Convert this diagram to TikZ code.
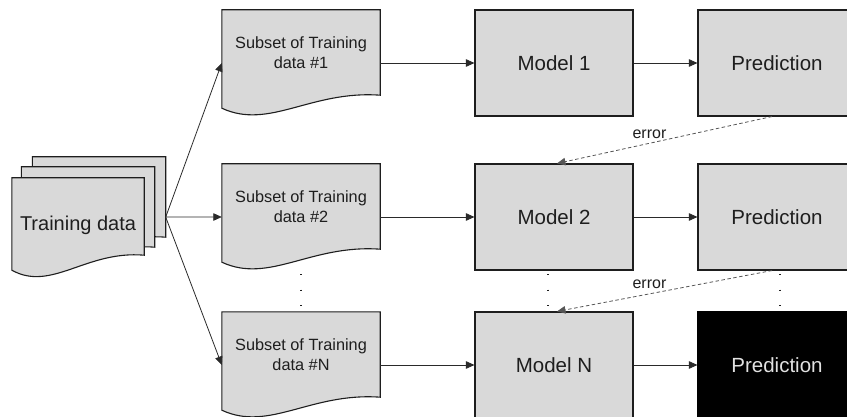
\documentclass[tikz,border=0pt]{standalone}
\usepackage{fontspec}
\setmainfont{Liberation Sans}
\usetikzlibrary{arrows.meta,calc,backgrounds}
\definecolor{boxfill}{HTML}{D9D9D9}
\definecolor{ink}{HTML}{1E1E1E}
\definecolor{wire}{HTML}{2A2A2A}
\tikzset{
  boxline/.style={draw=ink, line width=1.1pt, fill=boxfill},
  docnode/.style={draw=none, minimum width=158pt, minimum height=85pt, inner sep=0pt,
    align=center, text=ink, font=\fontsize{16.3}{19.5}\selectfont},
  stacknode/.style={draw=none, minimum width=133pt, minimum height=80pt, inner sep=0pt,
    text=ink, font=\fontsize{20}{24}\selectfont},
  procbox/.style={boxline, minimum width=158pt, minimum height=106pt, inner sep=0pt,
    text=ink, font=\fontsize{20.5}{24}\selectfont},
  finalbox/.style={procbox, fill=black, draw=black, text=boxfill!80!white},
  flow/.style={draw=wire, line width=0.8pt, -{Triangle[length=8.5pt,width=7.5pt]}},
  errflow/.style={draw=wire!80!white, line width=0.8pt, dash pattern=on 3.5pt off 2.5pt,
    -{Triangle[length=8.5pt,width=7.5pt]}},
  errlabel/.style={font=\fontsize{16}{19}\selectfont, text=ink, inner sep=1.5pt},
  dotcol/.style={draw=ink, line width=1.2pt, dash pattern=on 1.2pt off 14.3pt}
}
\newcommand\docbody[2]{%
  \path[boxline] (#1.north west) -- (#1.north east) -- (#1.south east)
    .. controls ($(#1.south east)!0.44!(#1.south west)+(0,-5)$)
    and ($(#1.south west)!0.30!(#1.south east)+(0,#2+22)$)
    .. ($(#1.south west)+(0,#2)$) -- cycle;}
\begin{document}
\begin{tikzpicture}[x=1pt, y=-1pt]
  \useasboundingbox (0,0) rectangle (847,417);
  \clip (0,0) rectangle (847,417);

  % training data stack
  \node[stacknode] (t3) at (99,197) {};
  \node[stacknode] (t2) at (88,207) {};
  \node[stacknode, minimum width=132pt, minimum height=77pt,
        text height=29pt, text depth=0pt] (t1) at (78,216.5) {Training data};

  % subsets
  \node[docnode] (s1) at (301,52.5) {Subset of Training\\data \#1};
  \node[docnode] (s2) at (301,206.5) {Subset of Training\\data \#2};
  \node[docnode] (sN) at (301,354.5) {Subset of Training\\data \#N};

  \begin{scope}[on background layer]
    \docbody{t3}{15}
    \docbody{t2}{15}
    \docbody{t1}{15}
    \docbody{s1}{13}
    \docbody{s2}{13}
    \docbody{sN}{13}
  \end{scope}

  % models and predictions
  \node[procbox] (m1) at (554,63) {Model 1};
  \node[procbox] (m2) at (554,217) {Model 2};
  \node[procbox] (mN) at (554,365) {Model N};
  \node[procbox] (p1) at (777,63) {Prediction};
  \node[procbox] (p2) at (777,217) {Prediction};
  \node[finalbox] (pN) at (777,365) {Prediction};

  % fan-out from training data
  \coordinate (src) at ($(t3.north east)!0.75!(t3.south east)$);
  \draw[flow] (src) -- (s1.west |- m1);
  \draw[flow] (src) -- (s2.west |- m2);
  \draw[flow] (src) -- (sN.west |- mN);

  % subsets to models
  \draw[flow] (s1.east |- m1) -- (m1.west);
  \draw[flow] (s2.east |- m2) -- (m2.west);
  \draw[flow] (sN.east |- mN) -- (mN.west);

  % models to predictions
  \draw[flow] (m1.east) -- (p1.west);
  \draw[flow] (m2.east) -- (p2.west);
  \draw[flow] (mN.east) -- (pN.west);

  % error feedback
  \draw[errflow] ($(p1.south)+(-5,0)$) -- node[errlabel, pos=0.57, above=3pt] (e1) {error} ($(m2.north)+(3,0)$);
  \draw[errflow] ($(p2.south)+(-5,0)$) -- node[errlabel, pos=0.57, above=3pt] (e2) {error} ($(mN.north)+(3,0)$);

  % ellipsis dots
  \coordinate (da1) at (301,274);  \coordinate (db1) at (301,306.5);
  \coordinate (da2) at (548,274);  \coordinate (db2) at (548,306.5);
  \coordinate (da3) at (780,274);  \coordinate (db3) at (780,306.5);
  \draw[dotcol] (da1) -- (db1);
  \draw[dotcol] (da2) -- (db2);
  \draw[dotcol] (da3) -- (db3);
\end{tikzpicture}
\end{document}
